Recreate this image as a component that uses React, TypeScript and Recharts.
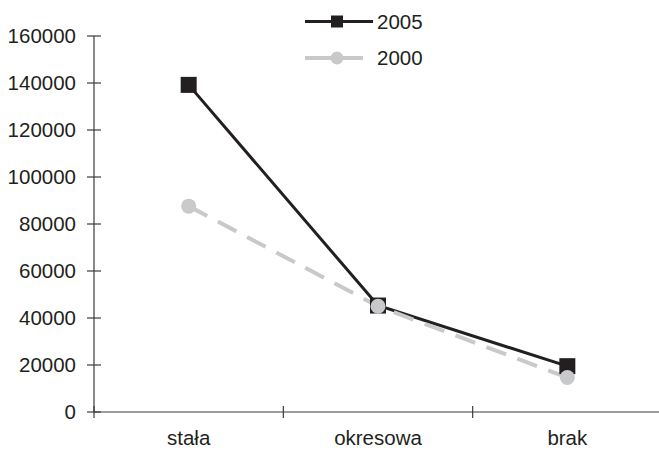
import React from "react"
import { LineChart, Line, XAxis, YAxis } from "recharts"

const categories = ["stała", "okresowa", "brak"]
const values2005 = [139200, 45300, 19500]
const values2000 = [87600, 45000, 14700]
const yTicks = [0, 20000, 40000, 60000, 80000, 100000, 120000, 140000, 160000]

const seriesNames = ["2005", "2000"]
const BLACK = "#231f20"
const GRAY = "#c9c9cb"
const AXIS = "#3c3c3c"
const FONT = "'Liberation Sans', Arial, Helvetica, sans-serif"
const FS = 20.5

const data = categories.map((name, i) => ({
  name,
  y2005: values2005[i],
  y2000: values2000[i],
}))

function SquareDot(props: any) {
  const { cx, cy } = props
  if (cx == null || cy == null) return null
  return <rect x={cx - 8} y={cy - 8} width={16} height={16} fill={BLACK} />
}

function CircleDot(props: any) {
  const { cx, cy } = props
  if (cx == null || cy == null) return null
  return <circle cx={cx} cy={cy} r={7.5} fill={GRAY} />
}

function YTick(props: any) {
  const { x, y, payload } = props
  return (
    <g>
      <line x1={x + 11} x2={x + 25} y1={y} y2={y} stroke={AXIS} strokeWidth={1.2} />
      <text x={x} y={y} dy={7.3} textAnchor="end" fontSize={FS} fill={BLACK} fontFamily={FONT}>
        {payload.value}
      </text>
    </g>
  )
}

function XTick(props: any) {
  const { x, y, payload } = props
  const half = payload.offset || 94.7
  const bx = x - half
  return (
    <g>
      <line x1={bx} x2={bx} y1={y - 14} y2={y - 2} stroke={AXIS} strokeWidth={1.2} />
      <text x={x} y={y} dy={25} textAnchor="middle" fontSize={FS} fill={BLACK} fontFamily={FONT}>
        {payload.value}
      </text>
    </g>
  )
}

function LegendBox() {
  return (
    <svg
      width={150}
      height={75}
      style={{ position: "absolute", left: 290, top: 0, display: "block" }}
    >
      <line x1={15} x2={83} y1={21.5} y2={21.5} stroke={BLACK} strokeWidth={3} />
      <rect x={41} y={15.5} width={12} height={12} fill={BLACK} />
      <text x={87} y={21.5} dy={7.3} fontSize={FS} fill={BLACK} fontFamily={FONT}>
        {seriesNames[0]}
      </text>
      <line x1={15} x2={73} y1={58} y2={58} stroke={GRAY} strokeWidth={4} />
      <circle cx={47} cy={58} r={6.5} fill={GRAY} />
      <text x={87} y={58} dy={7.3} fontSize={FS} fill={BLACK} fontFamily={FONT}>
        {seriesNames[1]}
      </text>
    </svg>
  )
}

export default function App() {
  return (
    <div
      style={{
        position: "absolute",
        left: 0,
        top: 0,
        width: 659,
        height: 450,
        overflow: "hidden",
        background: "#fff",
      }}
    >
      <LineChart
        width={672}
        height={450}
        data={data}
        margin={{ top: 36, right: 10, bottom: 0, left: 0 }}
      >
        <XAxis
          dataKey="name"
          scale="band"
          height={38}
          axisLine={{ stroke: AXIS, strokeWidth: 1.2 }}
          tickLine={false}
          tickSize={6}
          tickMargin={2}
          tick={<XTick />}
          interval={0}
        />
        <YAxis
          width={94}
          domain={[0, 160000]}
          ticks={yTicks}
          axisLine={{ stroke: AXIS, strokeWidth: 1.2 }}
          tickLine={false}
          tickSize={7}
          tickMargin={11}
          tick={<YTick />}
          interval={0}
        />
        <Line
          type="linear"
          dataKey="y2005"
          name={seriesNames[0]}
          stroke={BLACK}
          strokeWidth={3}
          dot={<SquareDot />}
          activeDot={false}
          isAnimationActive={false}
        />
        <Line
          type="linear"
          dataKey="y2000"
          name={seriesNames[1]}
          stroke={GRAY}
          strokeWidth={4}
          strokeDasharray="21 12"
          dot={<CircleDot />}
          activeDot={false}
          isAnimationActive={false}
        />
      </LineChart>
      <LegendBox />
    </div>
  )
}
